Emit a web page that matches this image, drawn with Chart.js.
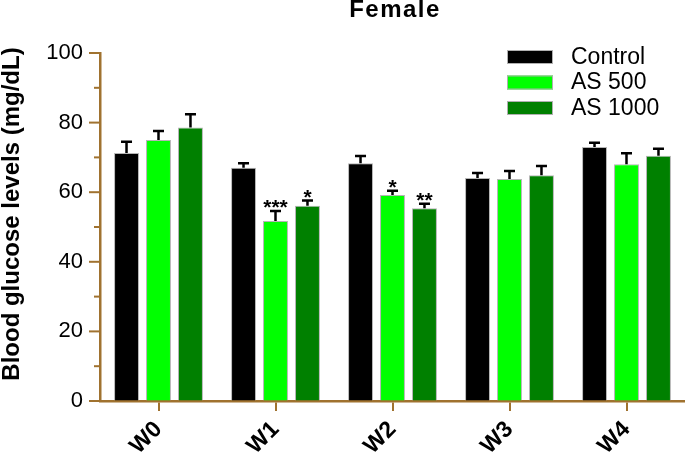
<!DOCTYPE html>
<html lang="en">
<head>
<meta charset="UTF-8">
<title>Female</title>
<script src="https://cdn.jsdelivr.net/npm/chart.js"></script>
<style>
  html, body { margin: 0; padding: 0; background: #fff; }
  #wrap { width: 685px; height: 452px; }
</style>
</head>
<body>
<div id="wrap"><canvas id="chart" width="685" height="452"></canvas></div>
<script>
const weeks = ["W0", "W1", "W2", "W3", "W4"];
const seriesNames = ["Control", "AS 500", "AS 1000"];
const controlMean = [71.3, 67.0, 68.3, 64.1, 73.0];
const as500Mean = [75.0, 51.7, 59.2, 63.8, 68.0];
const as1000Mean = [78.6, 56.1, 55.4, 64.9, 70.5];
const controlErr = [3.2, 1.3, 2.1, 1.4, 1.2];
const as500Err = [2.6, 2.9, 1.2, 2.3, 3.2];
const as1000Err = [3.8, 1.5, 1.3, 2.6, 2.0];
const controlSig = ["", "", "", "", ""];
const as500Sig = ["", "***", "*", "", ""];
const as1000Sig = ["", "*", "**", "", ""];
const yTicks = [0, 20, 40, 60, 80, 100];

const axisColor = "#a0722f";
const font = "'Liberation Sans', Arial, sans-serif";

// error bars, stars, custom ticks, legend and titles
const extras = {
  id: "extras",
  afterDatasetsDraw(chart) {
    const ctx = chart.ctx;
    const y = chart.scales.y;
    ctx.save();
    chart.data.datasets.forEach((ds, i) => {
      const meta = chart.getDatasetMeta(i);
      meta.data.forEach((bar, j) => {
        const top = y.getPixelForValue(ds.data[j] + ds.err[j]);
        ctx.strokeStyle = "#000";
        ctx.lineWidth = 2.5;
        ctx.beginPath();
        ctx.moveTo(bar.x, bar.y);
        ctx.lineTo(bar.x, top);
        ctx.moveTo(bar.x - 5.5, top);
        ctx.lineTo(bar.x + 5.5, top);
        ctx.stroke();
        if (ds.sig[j]) {
          ctx.fillStyle = "#000";
          ctx.font = "bold 21px " + font;
          ctx.textAlign = "center";
          ctx.textBaseline = "alphabetic";
          ctx.fillText(ds.sig[j], bar.x, top + 3);
        }
      });
    });
    ctx.restore();
  },
  afterDraw(chart) {
    const ctx = chart.ctx;
    const y = chart.scales.y;
    const left = chart.chartArea.left;
    ctx.save();
    // y ticks, minor ones shorter
    ctx.strokeStyle = axisColor;
    ctx.lineWidth = 2;
    y.ticks.forEach((t) => {
      const py = y.getPixelForValue(t.value);
      const len = yTicks.includes(t.value) ? 11 : 6;
      ctx.beginPath();
      ctx.moveTo(left - len, py);
      ctx.lineTo(left, py);
      ctx.stroke();
    });

    // legend
    ctx.font = "23px " + font;
    ctx.textBaseline = "middle";
    ctx.textAlign = "left";
    chart.data.datasets.forEach((ds, i) => {
      const by = 50 + i * 25.5;
      ctx.fillStyle = ds.backgroundColor;
      ctx.fillRect(507, by, 46, 14);
      ctx.strokeStyle = "#b0b0b0";
      ctx.lineWidth = 1;
      ctx.strokeRect(507.5, by + 0.5, 45, 13);
      ctx.fillStyle = "#000";
      ctx.fillText(ds.label, 571, by + 7.5);
    });

    // title
    ctx.font = "bold 24px " + font;
    ctx.letterSpacing = "1.5px";
    ctx.textAlign = "center";
    ctx.fillText("Female", 395, 10);
    ctx.letterSpacing = "0px";

    // y axis title
    ctx.translate(12, 214);
    ctx.rotate(-Math.PI / 2);
    ctx.font = "bold 24px " + font;
    ctx.fillText("Blood glucose levels (mg/dL)", 0, 0);
    ctx.restore();
  },
};

new Chart(document.getElementById("chart"), {
  type: "bar",
  data: {
    labels: weeks,
    datasets: [
      { label: seriesNames[0], data: controlMean, err: controlErr, sig: controlSig, backgroundColor: "#000000" },
      { label: seriesNames[1], data: as500Mean, err: as500Err, sig: as500Sig, backgroundColor: "#00ff00" },
      { label: seriesNames[2], data: as1000Mean, err: as1000Err, sig: as1000Sig, backgroundColor: "#008000" },
    ].map((d) => ({
      ...d,
      borderColor: "rgba(150,150,150,0.7)",
      borderWidth: 1,
      barPercentage: 0.78,
      categoryPercentage: 0.82,
    })),
  },
  options: {
    responsive: false,
    animation: false,
    layout: { padding: { top: 53, left: 0, right: 0, bottom: 0 } },
    plugins: {
      legend: { display: false },
      title: { display: false },
      tooltip: { enabled: false },
    },
    scales: {
      x: {
        afterFit: (s) => { s.height = 51; },
        border: { color: axisColor, width: 2.5 },
        grid: { drawOnChartArea: false, offset: false, color: axisColor, lineWidth: 2, tickLength: 10 },
        ticks: {
          color: "#000",
          font: { family: font, size: 23, weight: "bold" },
          minRotation: 45,
          maxRotation: 45,
          padding: 5,
        },
      },
      y: {
        min: 0,
        max: 100,
        afterFit: (s) => { s.width = 100; },
        border: { color: axisColor, width: 2.5 },
        grid: { display: true, drawOnChartArea: false, drawTicks: false, color: "rgba(0,0,0,0)" },
        ticks: {
          stepSize: 10,
          color: "#000",
          padding: 17,
          font: { family: font, size: 22 },
          callback: (v) => (yTicks.includes(v) ? v : ""),
        },
      },
    },
  },
  plugins: [extras],
});
</script>
</body>
</html>
